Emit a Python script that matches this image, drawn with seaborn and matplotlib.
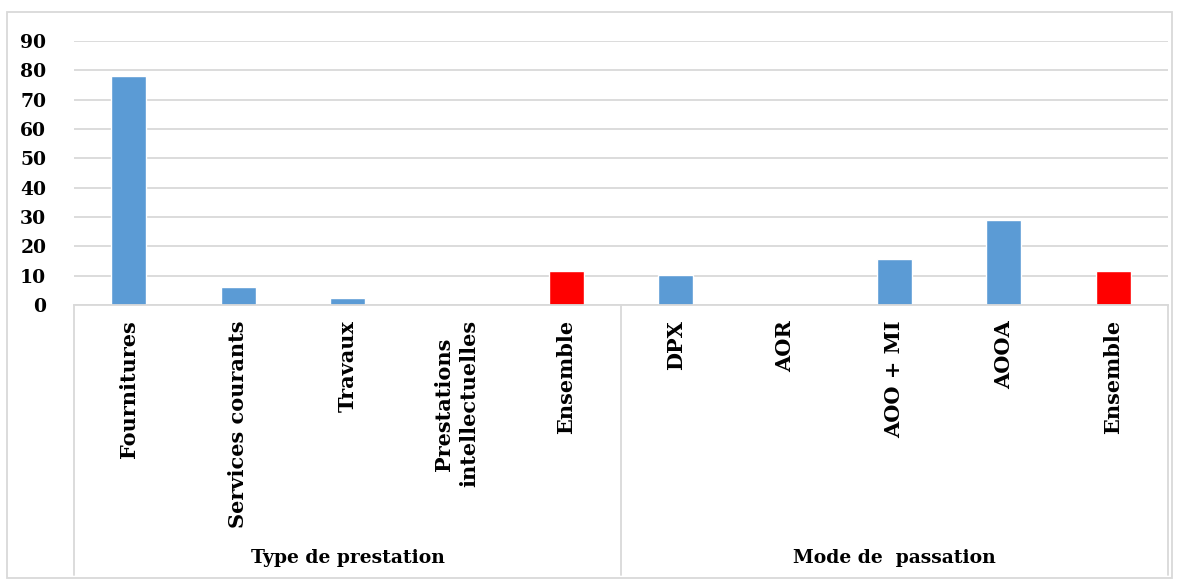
import matplotlib
matplotlib.use("Agg")
import matplotlib.pyplot as plt
from matplotlib.patches import Rectangle
import pandas as pd
import seaborn as sb

# categories, two groups of five
keys = ["Fournitures", "Services", "Travaux", "Prestations", "Ensemble1",
        "DPX", "AOR", "AOOMI", "AOOA", "Ensemble2"]
labels = ["Fournitures", "Services courants", "Travaux", "Prestations\nintellectuelles", "Ensemble",
          "DPX", "AOR", "AOO + MI", "AOOA", "Ensemble"]
values = [78.1, 6.1, 2.4, 0, 11.6, 10.2, 0, 15.7, 29.0, 11.6]
kind = ["cat", "cat", "cat", "cat", "total", "cat", "cat", "cat", "cat", "total"]
groups = ["Type de prestation", "Mode de  passation"]

df = pd.DataFrame({"key": keys, "value": values, "kind": kind})

sb.set_style("white")
plt.rcParams["font.family"] = ["DejaVu Serif"]
plt.rcParams["font.weight"] = "bold"
plt.rcParams["text.color"] = "black"
plt.rcParams["xtick.color"] = "black"
plt.rcParams["ytick.color"] = "black"

fig = plt.figure(figsize=(11.84, 5.81), dpi=100)
ax = fig.add_axes([74 / 1184, 1 - 305 / 581, (1168 - 74) / 1184, (305 - 41) / 581])

sb.barplot(data=df, x="key", y="value", hue="kind", order=keys,
           palette={"cat": "#5B9BD5", "total": "#FF0000"}, saturation=1,
           dodge=False, width=0.32, legend=False, ax=ax)

ax.set_ylim(0, 90)
ax.set_xlim(-0.5, 9.5)
ax.set_yticks(range(0, 100, 10))
ax.yaxis.grid(True, color="#d9d9d9", linewidth=1.3)
ax.set_axisbelow(True)
for s in ["top", "left", "right"]:
    ax.spines[s].set_visible(False)
ax.spines["bottom"].set_color("#d9d9d9")
ax.spines["bottom"].set_linewidth(1.3)

ax.set_xticks(range(len(labels)))
ax.set_xticklabels(labels, rotation=90, va="top", ha="center",
                   fontsize=15, fontweight="bold", linespacing=1.35, color="black")
ax.tick_params(axis="x", length=0, pad=11)
ax.tick_params(axis="y", length=0, pad=20, labelsize=13.5)
for t in ax.get_yticklabels():
    t.set_fontweight("bold")
    t.set_color("black")
ax.set_xlabel("")
ax.set_ylabel("")

# group separators and labels below the axis
trans = ax.get_xaxis_transform()
ybot = -(575 - 305) / (305 - 41)
for x in [-0.5, 4.5, 9.5]:
    ax.plot([x, x], [0, ybot], color="#d9d9d9", lw=1.3, transform=trans, clip_on=False)
ylab = -(558 - 305) / (305 - 41)
ax.text(2, ylab, groups[0], transform=trans, ha="center", va="center",
        fontsize=13.5, fontweight="bold", color="black")
ax.text(7, ylab, groups[1], transform=trans, ha="center", va="center",
        fontsize=13.5, fontweight="bold", color="black")

# outer chart frame
fig.add_artist(Rectangle((7 / 1184, 1 - 578 / 581), (1172 - 7) / 1184, (578 - 12) / 581,
                         transform=fig.transFigure, fill=False, edgecolor="#d9d9d9", lw=1.3))

fig.savefig("out.png", dpi=100)
plt.close(fig)
